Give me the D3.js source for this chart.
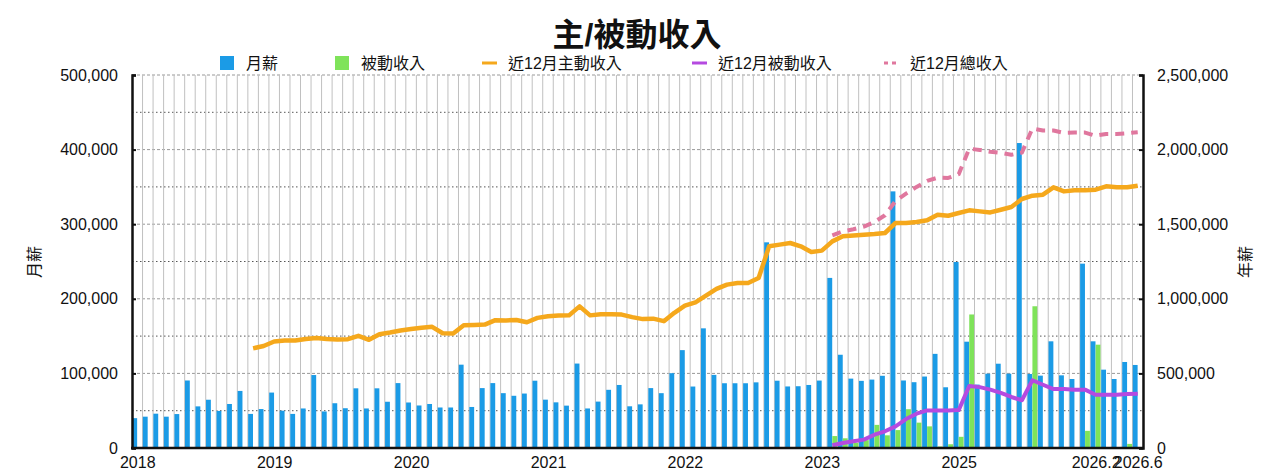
<!DOCTYPE html>
<html><head><meta charset="utf-8">
<script src="https://cdn.jsdelivr.net/npm/d3@7/dist/d3.min.js"></script>
<style>
body{margin:0;background:#fff;}
svg text{font-family:"Liberation Sans","Noto Sans CJK TC",sans-serif;fill:#111;}
</style></head>
<body><svg id="c" width="1280" height="475"></svg>
<script>
// ---- data ----
const categoryCount = 96;
const tickIndex = [0, 13, 26, 39, 52, 65, 78, 91, 95];
const tickText = ["2018", "2019", "2020", "2021", "2022", "2023", "2025", "2026.2", "2026.6"];
// 月薪 (left axis)
const monthly = [40000,42000,46000,42000,45500,90500,55800,64700,49700,59000,76500,45700,52200,74300,50000,45700,
 53000,97800,49000,60000,53300,80000,53000,80000,62000,87000,61000,57000,59000,54300,54300,111700,
 55000,80300,87000,73500,70000,73000,90200,64800,61200,56800,113200,53000,62200,78000,84500,55900,
 58500,80300,73500,100300,131200,82400,160400,98000,86800,86800,86800,88000,275700,90200,82500,82800,
 84500,90400,228000,125000,93000,90000,91700,96800,344000,90500,88200,95800,126200,81400,249300,142500,
 85000,99600,113000,99600,408800,99200,97000,143000,97400,92500,247100,143000,105000,92500,115300,111300];
// 被動收入 (left axis)
const passive = [0,0,0,0,0,0,0,0,0,0,0,0,0,0,0,0,
 0,0,0,0,0,0,0,0,0,0,0,0,0,0,0,0,
 0,0,0,0,0,0,0,0,0,0,0,0,0,0,0,0,
 0,0,0,0,0,0,0,0,0,0,0,0,0,0,0,0,
 0,0,16000,13000,7000,10500,31000,17000,24000,52000,34000,29000,2000,5000,15000,179000,
 0,0,0,0,0,190000,0,0,0,0,23000,138500,0,0,5500,0];
// 近12月主動收入 (right axis)
const active12 = [null,null,null,null,null,null,null,null,null,null,null,668000,684000,714000,720000,721000,
 731000,738000,731000,727000,729000,752000,725000,763000,774000,787000,797000,806000,812000,769000,767000,823000,
 825000,827000,857000,855000,858000,843000,872000,883000,888000,889000,949000,889000,897000,896000,894000,877000,
 864000,867000,850000,906000,954000,976000,1021000,1066000,1095000,1106000,1106000,1139000,1352000,1363000,1374000,1352000,
 1314000,1323000,1385000,1419000,1425000,1430000,1434000,1441000,1508000,1508000,1515000,1526000,1564000,1557000,1575000,1593000,
 1586000,1579000,1597000,1615000,1669000,1691000,1698000,1747000,1720000,1727000,1727000,1731000,1754000,1747000,1747000,1758000];
// 近12月被動收入 (right axis)
const passive12 = [null,null,null,null,null,null,null,null,null,null,null,null,null,null,null,null,
 null,null,null,null,null,null,null,null,null,null,null,null,null,null,null,null,
 null,null,null,null,null,null,null,null,null,null,null,null,null,null,null,null,
 null,null,null,null,null,null,null,null,null,null,null,null,null,null,null,null,
 null,null,18000,34000,45000,56000,89000,112000,145000,194000,230000,252000,252000,252000,254000,416000,
 408000,391000,369000,342000,320000,454000,424000,395000,395000,391000,391000,357000,357000,357000,362000,364000];
// 近12月總收入 (right axis)
const total12 = [null,null,null,null,null,null,null,null,null,null,null,null,null,null,null,null,
 null,null,null,null,null,null,null,null,null,null,null,null,null,null,null,null,
 null,null,null,null,null,null,null,null,null,null,null,null,null,null,null,null,
 null,null,null,null,null,null,null,null,null,null,null,null,null,null,null,null,
 null,null,1425000,1452000,1466000,1484000,1515000,1560000,1655000,1705000,1750000,1790000,1812000,1810000,1835000,2006000,
 1998000,1985000,1978000,1965000,1980000,2142000,2128000,2128000,2112000,2114000,2114000,2093000,2105000,2105000,2110000,2116000];
const leftTicks = [0,100000,200000,300000,400000,500000];
const rightTicks = [0,500000,1000000,1500000,2000000,2500000];

// ---- layout ----
const L = 132, R = 1143, T = 75, B = 448;
const svg = d3.select("#c");
const idx = d3.range(categoryCount);
const x = d3.scaleBand().domain(idx).range([L, R]).padding(0);
const bw = x.bandwidth();
const yL = d3.scaleLinear().domain([0, 500000]).range([B, T]);
const yR = d3.scaleLinear().domain([0, 2500000]).range([B, T]);
const fmt = d3.format(",");

// gridlines
const g = svg.append("g");
d3.range(50000, 500001, 100000).forEach(v => {
  g.append("line").attr("x1", L).attr("x2", R).attr("y1", yL(v)).attr("y2", yL(v))
   .attr("stroke", "#555").attr("stroke-width", 1).attr("stroke-dasharray", "1.5,2.5");
});
d3.range(100000, 500001, 100000).forEach(v => {
  g.append("line").attr("x1", L).attr("x2", R).attr("y1", yL(v)).attr("y2", yL(v))
   .attr("stroke", "#999").attr("stroke-width", 1).attr("stroke-dasharray", "3,2");
});
idx.slice(1).forEach(i => {
  g.append("line").attr("x1", x(i)).attr("x2", x(i)).attr("y1", T).attr("y2", B)
   .attr("stroke", "#c0c0c0").attr("stroke-width", 1);
});

// bars
svg.append("g").selectAll("rect").data(idx).join("rect")
  .attr("x", i => x(i) + 0.3).attr("width", bw * 0.46)
  .attr("y", i => yL(monthly[i])).attr("height", i => B - yL(monthly[i]))
  .attr("fill", "#1b9be6");
svg.append("g").selectAll("rect").data(idx.filter(i => passive[i] > 0)).join("rect")
  .attr("x", i => x(i) + bw * 0.5).attr("width", bw * 0.46)
  .attr("y", i => yL(passive[i])).attr("height", i => B - yL(passive[i]))
  .attr("fill", "#7fe35a");

// lines
function drawLine(arr, color, width, dash) {
  const line = d3.line().defined(d => arr[d] !== null)
    .x(d => x(d) + bw / 2).y(d => yR(arr[d]));
  svg.append("path").datum(idx).attr("d", line)
    .attr("fill", "none").attr("stroke", color).attr("stroke-width", width)
    .attr("stroke-linejoin", "round").attr("stroke-dasharray", dash || null);
}
drawLine(active12, "#f5a81c", 4.5);
drawLine(passive12, "#b54ae0", 4);
drawLine(total12, "#e0779e", 4, "9,7");

// axes
const axL = svg.append("g").attr("transform", `translate(${L},0)`)
  .call(d3.axisLeft(yL).tickValues(leftTicks).tickFormat(fmt).tickSize(-4).tickPadding(14));
const axR = svg.append("g").attr("transform", `translate(${R},0)`)
  .call(d3.axisRight(yR).tickValues(rightTicks).tickFormat(fmt).tickSize(-4).tickPadding(14));
const axB = svg.append("g").attr("transform", `translate(0,${B})`)
  .call(d3.axisBottom(d3.scaleLinear().domain([0, categoryCount]).range([L, R]))
    .tickValues(tickIndex.map(i => i + 0.5)).tickFormat((d, k) => tickText[k]).tickSize(0).tickPadding(9));
[axL, axR, axB].forEach(a => {
  a.selectAll("text").attr("font-size", 16).attr("fill", "#111");
  a.selectAll(".domain").attr("stroke", "#111").attr("stroke-width", 2.5);
  a.selectAll(".tick line").attr("stroke", "#111").attr("stroke-width", 2);
});
axB.select(".domain").remove();
svg.append("line").attr("x1", L - 1).attr("x2", R + 1).attr("y1", B).attr("y2", B)
  .attr("stroke", "#111").attr("stroke-width", 2.5);

// axis titles
svg.append("text").attr("transform", "translate(40,262) rotate(-90)")
  .attr("text-anchor", "middle").attr("font-size", 16).text("月薪");
svg.append("text").attr("transform", "translate(1251,262) rotate(-90)")
  .attr("text-anchor", "middle").attr("font-size", 16).text("年薪");

// title
svg.append("text").attr("x", 637).attr("y", 46).attr("text-anchor", "middle")
  .attr("font-size", 32).attr("font-weight", "bold").text("主/被動收入");

// legend
const legendNames = ["月薪", "被動收入", "近12月主動收入", "近12月被動收入", "近12月總收入"];
const legendX = [220, 335, 482, 692, 884];
const lg = svg.append("g");
legendNames.forEach((n, k) => {
  const lx = legendX[k], ly = 63;
  if (k === 0) lg.append("rect").attr("x", lx).attr("y", ly - 7).attr("width", 14).attr("height", 14).attr("fill", "#1b9be6");
  if (k === 1) lg.append("rect").attr("x", lx).attr("y", ly - 7).attr("width", 14).attr("height", 14).attr("fill", "#7fe35a");
  if (k === 2) lg.append("line").attr("x1", lx).attr("x2", lx + 15).attr("y1", ly).attr("y2", ly).attr("stroke", "#f5a81c").attr("stroke-width", 3);
  if (k === 3) lg.append("line").attr("x1", lx).attr("x2", lx + 15).attr("y1", ly).attr("y2", ly).attr("stroke", "#b54ae0").attr("stroke-width", 3);
  if (k === 4) lg.append("line").attr("x1", lx).attr("x2", lx + 15).attr("y1", ly).attr("y2", ly).attr("stroke", "#e0779e").attr("stroke-width", 3).attr("stroke-dasharray", "4,4");
  lg.append("text").attr("x", lx + 26).attr("y", ly + 6).attr("font-size", 16).text(n);
});
</script></body></html>
